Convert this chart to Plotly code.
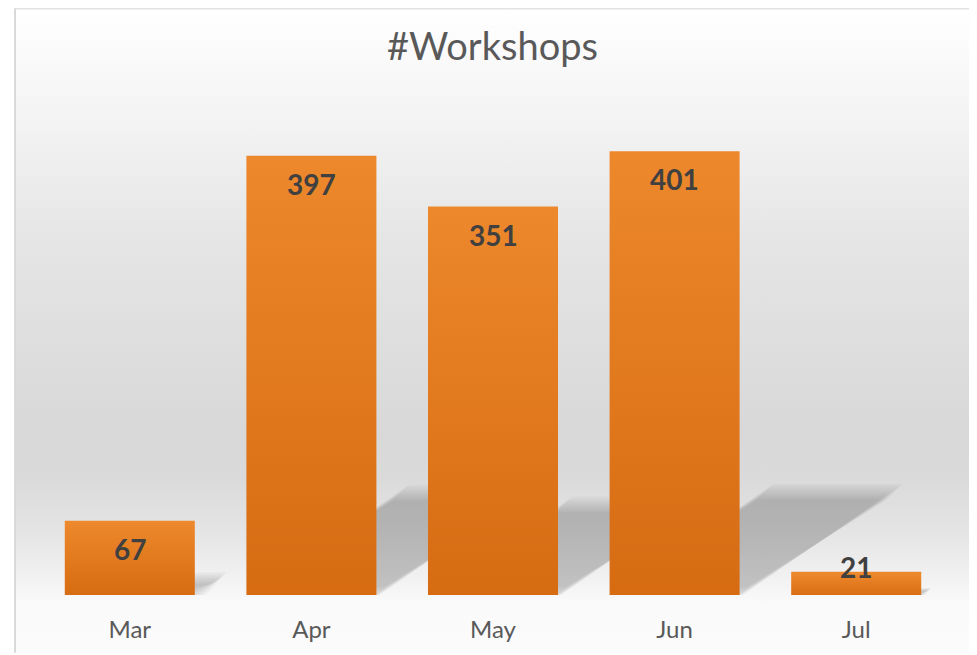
import base64
import plotly.graph_objects as go

# ---- data ----
months = ["Mar", "Apr", "May", "Jun", "Jul"]
workshops = [67, 397, 351, 401, 21]
title_text = "#Workshops"

# ---- style constants (figure coords; page body adds an 8px offset) ----
W, H = 969, 647
ML, MR, MT, MB = 31, 30, 89, 58
YMAX = 450
BAR_W = 0.716
PLOT_W = W - ML - MR
PLOT_H = H - MT - MB
PX_X = PLOT_W / len(months)      # px per category unit
PX_Y = PLOT_H / YMAX             # px per value unit
BAR_DARK = "#D66B12"
BAR_LIGHT = "#ED882C"
FONT = "Lato"

fig = go.Figure()

# ---- shadows (behind bars) ----
N_LAYERS = 9
for i, v in enumerate(workshops):
    h_px = v * PX_Y
    dy_px = 0.233 * h_px
    dx_px = 0.35 * h_px
    blur = min(8.0, 0.35 * dy_px)
    x0, x1 = i - BAR_W / 2, i + BAR_W / 2
    dx = dx_px / PX_X
    dy = dy_px / PX_Y
    verts = [(x0, 0), (x1, 0), (x1 + dx, dy), (x0 + dx, dy)]
    cx = sum(p[0] for p in verts) / 4
    cy = sum(p[1] for p in verts) / 4
    for n in range(N_LAYERS):
        k = -1.0 + 2.0 * n / (N_LAYERS - 1)
        d = k * blur
        xs, ys = [], []
        for (px, py) in verts:
            sx = 1 if px > cx else -1
            sy = 1 if py > cy else -1
            xs.append(px + sx * d / PX_X)
            ys.append(py + sy * d / PX_Y)
        xs.append(xs[0]); ys.append(ys[0])
        fig.add_trace(go.Scatter(
            x=xs, y=ys, mode="lines", fill="toself",
            fillcolor="rgba(0,0,0,0.022)", line=dict(width=0),
            hoverinfo="skip", showlegend=False))

# ---- bars (gradient filled) ----
for i, v in enumerate(workshops):
    x0, x1 = i - BAR_W / 2, i + BAR_W / 2
    fig.add_trace(go.Scatter(
        x=[x0, x1, x1, x0, x0], y=[0, 0, v, v, 0],
        mode="lines", fill="toself", line=dict(width=0),
        fillgradient=dict(type="vertical",
                          colorscale=[[0, BAR_DARK], [1, BAR_LIGHT]],
                          start=0, stop=v),
        name=months[i], hovertemplate="%{text}<extra></extra>",
        text=[f"{months[i]}: {v}"] * 5, showlegend=False))

# ---- data labels ----
for i, v in enumerate(workshops):
    if v * PX_Y >= 56:
        y, shift = v, -28
    else:
        y, shift = 0, 28
    fig.add_annotation(x=i, y=y, yshift=shift, text=str(v), showarrow=False,
                       xanchor="center", yanchor="middle",
                       font=dict(family=FONT, size=28, color="#404040", weight="bold"))

# ---- background frame with gradient ----
FX0, FY0, FX1 = 6, 0, 963
fw, fh = FX1 - FX0, H - FY0
stops = [(0, "#ffffff"), (86, "#f6f6f6"), (236, "#e5e5e5"), (426, "#d8d8d8"),
         (472, "#dadada"), (532, "#e6e6e6"), (577, "#f3f3f3"), (597, "#fafafa"), (fh, "#fbfbfb")]
stop_svg = "".join(f'<stop offset="{o / fh:.4f}" stop-color="{c}"/>' for o, c in stops)
svg = (f'<svg xmlns="http://www.w3.org/2000/svg" width="{fw}" height="{fh}" '
       f'viewBox="0 0 {fw} {fh}" preserveAspectRatio="none">'
       f'<defs><linearGradient id="g" gradientUnits="userSpaceOnUse" x1="0" y1="0" x2="0" y2="{fh}">'
       f'{stop_svg}</linearGradient></defs>'
       f'<rect x="1" y="0" width="{fw - 2}" height="{fh + 20}" fill="url(#g)" '
       f'stroke="#d9d9d9" stroke-width="2"/></svg>')
src = "data:image/svg+xml;base64," + base64.b64encode(svg.encode()).decode()
fig.add_layout_image(dict(
    source=src, xref="paper", yref="paper",
    x=(FX0 - ML) / PLOT_W, y=(H - MB - FY0) / PLOT_H,
    sizex=fw / PLOT_W, sizey=fh / PLOT_H,
    xanchor="left", yanchor="top", sizing="stretch", layer="below"))

fig.update_layout(
    width=W, height=H,
    margin=dict(l=ML, r=MR, t=MT, b=MB),
    paper_bgcolor="white", plot_bgcolor="rgba(0,0,0,0)",
    title=dict(text=title_text, x=0.5, xref="container", xanchor="center",
               y=1 - 39 / H, yref="container", yanchor="middle",
               font=dict(family=FONT, size=38, color="#595959")),
    xaxis=dict(range=[-0.5, len(months) - 0.5], tickvals=list(range(len(months))),
               ticktext=months, showgrid=False, zeroline=False, showline=False,
               ticks="", ticklabelstandoff=18,
               tickfont=dict(family=FONT, size=24, color="#595959"), fixedrange=True),
    yaxis=dict(range=[0, YMAX], visible=False, showgrid=False, zeroline=False,
               fixedrange=True),
    showlegend=False,
)

fig.write_html("out.html")
